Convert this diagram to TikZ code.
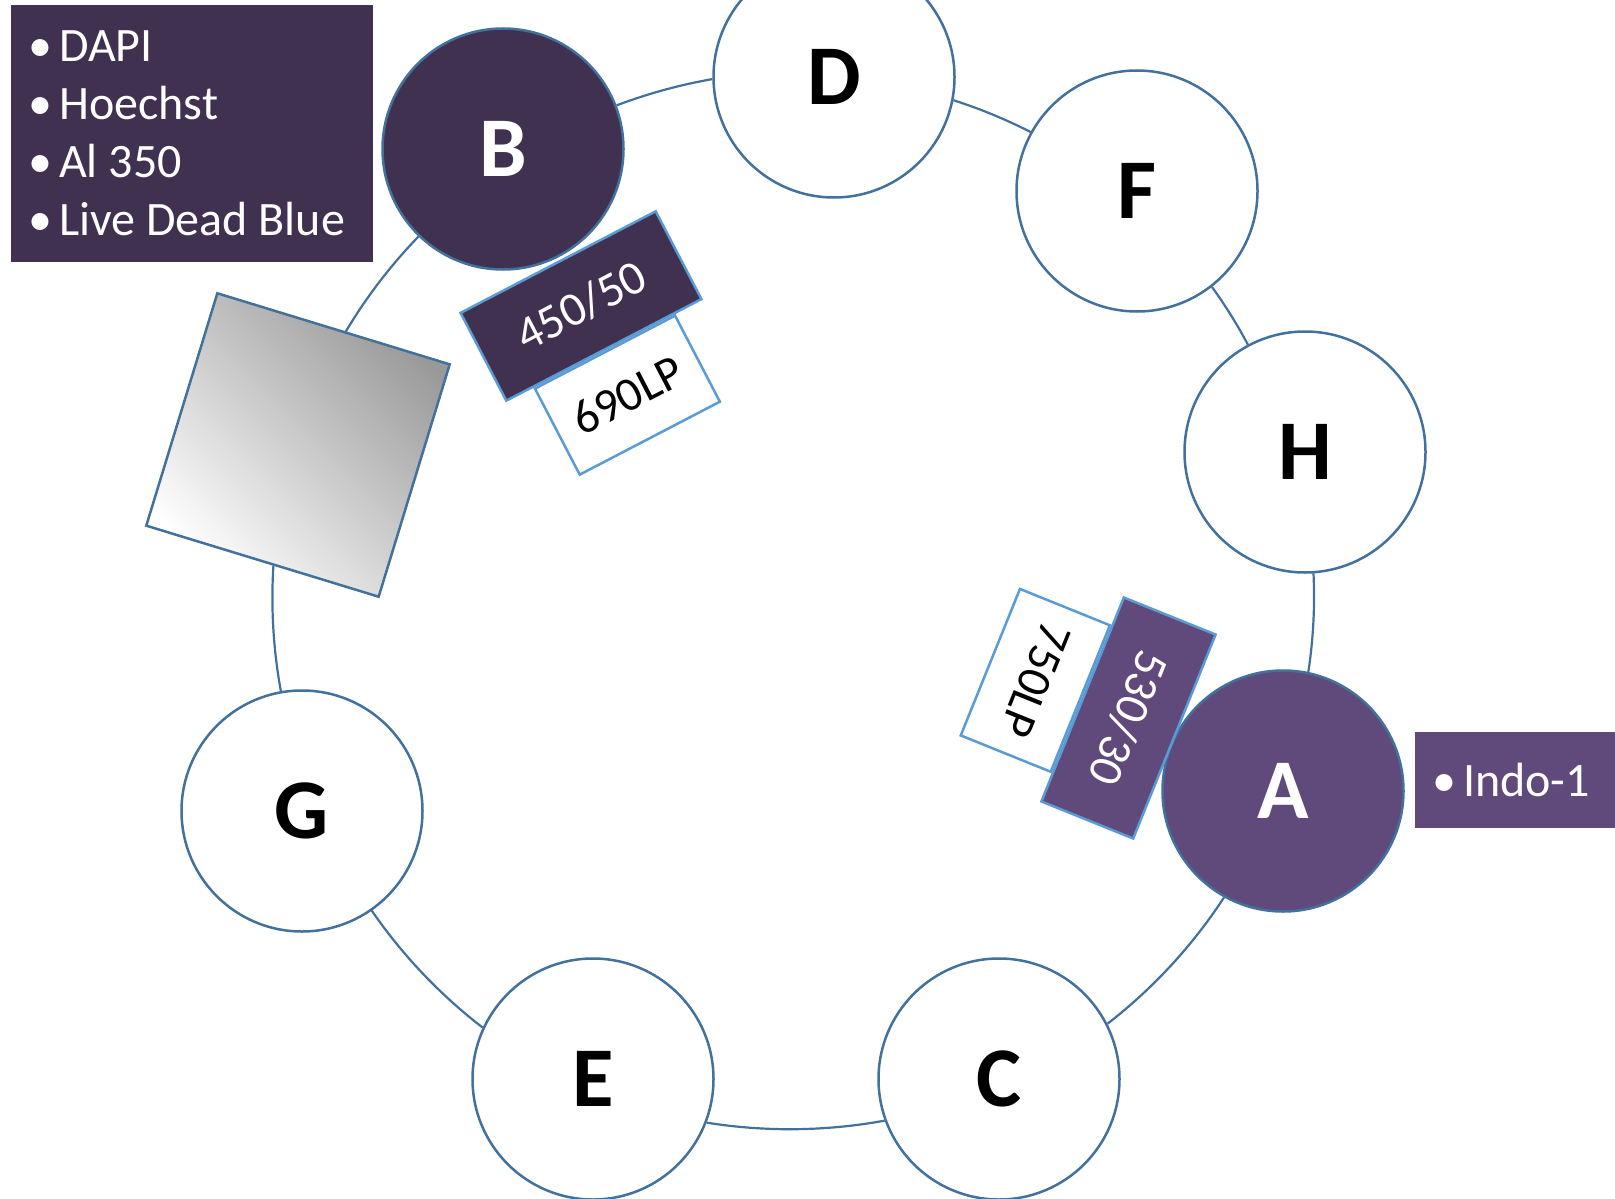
\documentclass[tikz,border=0pt]{standalone}
\usepackage{fontspec}
\setmainfont{Carlito}
\definecolor{darkpurple}{HTML}{403151}
\definecolor{midpurple}{HTML}{604A7B}
\definecolor{ringblue}{HTML}{41719C}
\definecolor{filterblue}{HTML}{5B9BD5}
\newcommand{\dye}{\makebox[31pt][l]{•}}

\begin{document}
\begin{tikzpicture}[x=1pt, y=-1pt,
    station/.style={circle, draw=ringblue, line width=2.5pt, fill=white,
      minimum size=241pt, inner sep=0pt, font=\fontsize{85}{85}\selectfont\bfseries},
    ring/.style={draw=ringblue, line width=2.2pt, bend left=#1, looseness=0.85},
    bandpass/.style={rectangle, draw=filterblue, line width=2.5pt, minimum width=220pt,
      minimum height=99pt, inner sep=0pt, text=white, font=\fontsize{48}{58}\selectfont},
    longpass/.style={rectangle, draw=filterblue, line width=2.5pt, fill=white,
      minimum width=158pt, minimum height=97pt, inner sep=0pt, font=\fontsize{48}{58}\selectfont},
    dyelist/.style={rectangle, anchor=north west, inner xsep=17pt, inner ysep=0pt,
      text=white, align=flush left, font=\fontsize{48}{58}\selectfont},
    detectorbox/.style={rectangle, draw=ringblue, line width=2.5pt, minimum size=243pt,
      top color=black!40, bottom color=white, shading angle=-45}]
  \useasboundingbox (0,0) rectangle (1615,1199);
  \node[station, fill=darkpurple, text=white] (B) at (503,149) {B};
  \node[station] (D) at (834,77) {D};
  \node[station] (F) at (1137,191) {F};
  \node[station] (H) at (1305,452) {H};
  \node[station, fill=midpurple, text=white] (A) at (1283,791) {A};
  \node[station] (C) at (999,1079) {C};
  \node[station] (E) at (593,1079) {E};
  \node[station] (G) at (302,811) {G};
  \draw[ring=5.4] (B.21) to (D.181);
  \draw[ring=4.6] (D.-11) to (F.151);
  \draw[ring=3.9] (F.-52) to (H.118);
  \draw[ring=5.7] (H.-86) to (A.78);
  \draw[ring=9.6] (A.-119) to (C.27);
  \draw[ring=9.8] (C.-160) to (E.-21);
  \draw[ring=9] (E.155) to (G.-55);
  \draw[ring=27.2, looseness=0.9] (G.100) to (B.-134);
  \node[detectorbox, rotate=-17] (det) at (298,445) {};
  \node[bandpass, fill=darkpurple, rotate=27.5] (bp450) at (581,306) {450/50};
  \node[longpass, rotate=27.5, anchor=north] (lp690) at (bp450.south) {690LP};
  \node[bandpass, fill=midpurple, rotate=-112] (bp530) at (1128.5,718) {530/30};
  \node[longpass, rotate=-112, anchor=north] (lp750) at (bp530.south) {750LP};
  \node[dyelist, fill=darkpurple, text width=328pt, minimum height=257pt] (dyesB) at (11,5)
    {\dye DAPI\\\dye Hoechst\\\dye Al 350\\\dye Live Dead Blue};
  \node[dyelist, fill=midpurple, text width=196pt, minimum height=96pt] (dyesA) at (1415,732)
    {\dye Indo-1};
\end{tikzpicture}
\end{document}
